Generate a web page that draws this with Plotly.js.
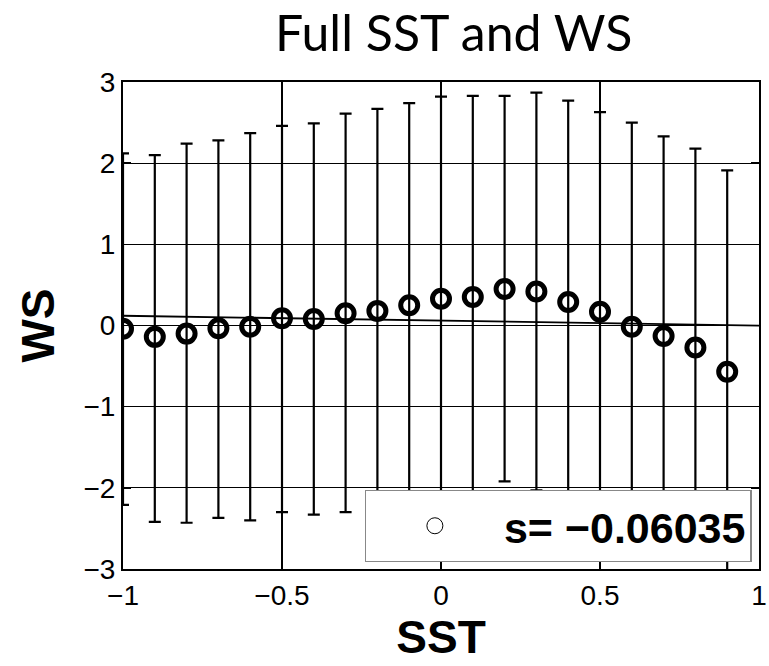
<!DOCTYPE html>
<html>
<head>
<meta charset="utf-8">
<script src="https://cdn.plot.ly/plotly-3.0.1.min.js"></script>
<style>html,body{margin:0;padding:0;background:#fff;}#chart{width:769px;height:666px;}</style>
</head>
<body>
<div id="chart"></div>
<script>
// SST bin centres
const sst = [-1.0, -0.9, -0.8, -0.7, -0.6, -0.5, -0.4, -0.3, -0.2, -0.1, 0.0, 0.1, 0.2, 0.3, 0.4, 0.5, 0.6, 0.7, 0.8, 0.9];
// mean WS per bin
const wsMean = [-0.04, -0.14, -0.10, -0.035, -0.015, 0.09, 0.08, 0.15, 0.18, 0.25, 0.33, 0.35, 0.45, 0.42, 0.29, 0.17, -0.015, -0.13, -0.27, -0.57];
// upper end of error bar
const wsUpper = [2.12, 2.10, 2.24, 2.28, 2.37, 2.46, 2.49, 2.61, 2.67, 2.74, 2.82, 2.83, 2.83, 2.87, 2.77, 2.63, 2.50, 2.33, 2.18, 1.91];
// lower end of error bar (partly hidden behind the legend in the original)
const wsLower = [-2.21, -2.42, -2.43, -2.37, -2.40, -2.30, -2.33, -2.30, -2.31, -2.24, -2.16, -2.13, -1.92, -2.03, -2.19, -2.29, -2.53, -2.59, -2.72, -3.05];
// regression line
const slope = -0.06035;
const intercept = 0.06;
const fitX = [-1, 1];
const legendLabel = 's= \u22120.06035';
const xTicks = [-1, -0.5, 0, 0.5, 1];
const xTickText = ['\u22121', '\u22120.5', '0', '0.5', '1'];
const yTicks = [-3, -2, -1, 0, 1, 2, 3];
const yTickText = ['\u22123', '\u22122', '\u22121', '0', '1', '2', '3'];

const errPlus = wsUpper.map((u, i) => u - wsMean[i]);
const errMinus = wsLower.map((l, i) => wsMean[i] - l);
const fitY = fitX.map(x => intercept + slope * x);

const traces = [
  {
    x: fitX, y: fitY, type: 'scatter', mode: 'lines',
    line: {color: '#000', width: 1.8}, showlegend: false, hoverinfo: 'skip'
  },
  {
    x: sst, y: wsMean, type: 'scatter', mode: 'markers',
    marker: {symbol: 'circle-open', size: 17, color: '#000', line: {width: 5, color: '#000'}},
    error_y: {type: 'data', symmetric: false, array: errPlus, arrayminus: errMinus,
              color: '#000', thickness: 2.2, width: 6},
    showlegend: false, name: legendLabel
  },
  {
    x: [null], y: [null], type: 'scatter', mode: 'markers', name: legendLabel,
    marker: {symbol: 'circle-open', size: 19, color: '#000', line: {width: 1, color: '#000'}},
    showlegend: true
  }
];

const axisFont = {family: 'Liberation Sans, Arial, sans-serif', size: 28, color: '#000'};
const layout = {
  width: 769, height: 666,
  margin: {l: 123, r: 10, t: 82, b: 97},
  paper_bgcolor: '#fff', plot_bgcolor: '#fff',
  title: {text: 'Full SST and WS', font: {family: 'Lato, Open Sans, sans-serif', size: 50, color: '#000'},
          x: 0.52, xref: 'paper', xanchor: 'center', y: 0.95, yref: 'container', yanchor: 'middle'},
  xaxis: {
    range: [-1, 1], tickvals: xTicks, ticktext: xTickText, tickfont: axisFont,
    ticklabeloverflow: 'allow',
    showgrid: true, gridcolor: '#000', gridwidth: 1.3, zeroline: false,
    showline: true, linecolor: '#000', linewidth: 2, mirror: 'ticks',
    ticks: 'inside', ticklen: 8, tickwidth: 1.5, tickcolor: '#000',
    title: {text: 'SST', font: {family: 'Liberation Sans, Arial, sans-serif', size: 46, weight: 'bold', color: '#000'}, standoff: 8}
  },
  yaxis: {
    range: [-3, 3], tickvals: yTicks, ticktext: yTickText, tickfont: axisFont,
    ticklabeloverflow: 'allow',
    showgrid: true, gridcolor: '#000', gridwidth: 1.3, zeroline: false,
    showline: true, linecolor: '#000', linewidth: 2, mirror: 'ticks',
    ticks: 'inside', ticklen: 8, tickwidth: 1.5, tickcolor: '#000',
    title: {text: 'WS', font: {family: 'Liberation Sans, Arial, sans-serif', size: 46, weight: 'bold', color: '#000'}, standoff: 14}
  },
  legend: {
    x: 0.38, y: 0.162, xanchor: 'left', yanchor: 'top', xref: 'paper', yref: 'paper',
    bgcolor: '#fff', bordercolor: '#888', borderwidth: 1.2,
    font: {family: 'Liberation Sans, Arial, sans-serif', size: 43, weight: 'bold', color: '#000'},
    itemwidth: 128
  },
  showlegend: true
};

Plotly.newPlot('chart', traces, layout, {staticPlot: true, displayModeBar: false});
</script>
</body>
</html>
